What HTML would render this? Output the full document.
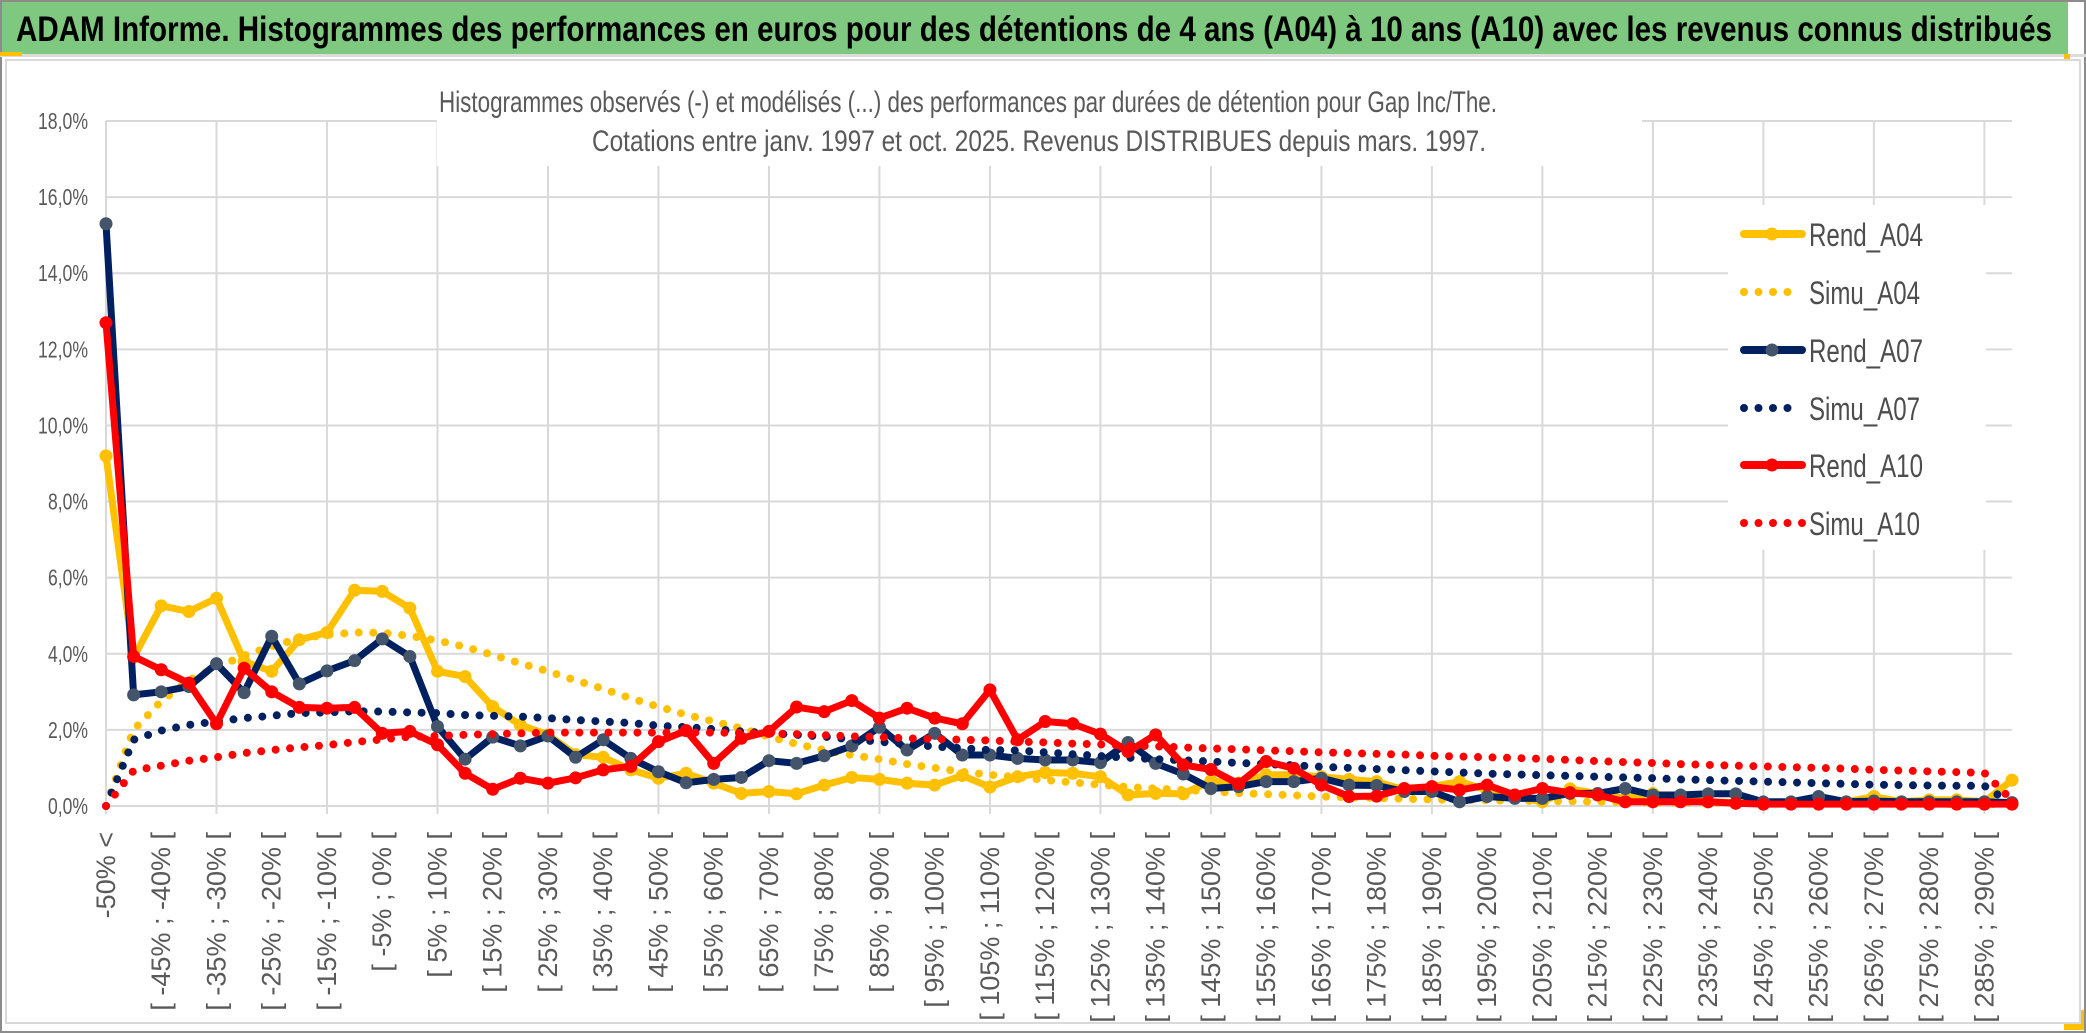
<!DOCTYPE html>
<html><head><meta charset="utf-8"><title>ADAM Informe - Gap Inc/The</title>
<style>
html,body{margin:0;padding:0;background:#fff;}
svg{display:block;}
</style></head>
<body>
<svg id="chart" width="2086" height="1033" viewBox="0 0 2086 1033" xmlns="http://www.w3.org/2000/svg">
  <rect x="0" y="0" width="2086" height="1033" fill="#ffffff"/>
  <rect x="1" y="1" width="2084" height="1031" fill="none" stroke="#8c8c8c" stroke-width="2"/>
  <rect x="2" y="2" width="2066" height="52" fill="#7ec87f"/>
  <rect x="0" y="54" width="2086" height="3" fill="#dcdcdc"/>
  <rect x="0" y="52" width="22" height="4" fill="#ffc000"/>
  <rect x="2064" y="54" width="6" height="16" fill="#ffc000"/>
  <rect x="2064" y="1010" width="20" height="20" fill="#ffc000"/>
  <rect x="6" y="60" width="2074" height="963" fill="#ffffff" stroke="#d9d9d9" stroke-width="2"/>
  <text x="16" y="41" font-family="'Liberation Sans Narrow','Liberation Sans',sans-serif" font-weight="bold" font-size="35" fill="#000" textLength="2036" lengthAdjust="spacingAndGlyphs">ADAM Informe. Histogrammes des performances en euros pour des détentions de 4 ans (A04) à 10 ans (A10) avec les revenus connus distribués</text>
  <g id="grid"></g>
  <rect x="437" y="70" width="1205" height="96" fill="#ffffff"/>
  <text x="968" y="112" text-anchor="middle" font-family="'Liberation Sans Narrow','Liberation Sans',sans-serif" font-size="30" fill="#595959" textLength="1058" lengthAdjust="spacingAndGlyphs">Histogrammes observés (-) et modélisés (...) des performances par durées de détention pour Gap Inc/The.</text>
  <text x="1039" y="151" text-anchor="middle" font-family="'Liberation Sans Narrow','Liberation Sans',sans-serif" font-size="30" fill="#595959" textLength="894" lengthAdjust="spacingAndGlyphs">Cotations entre janv. 1997 et oct. 2025. Revenus DISTRIBUES depuis mars. 1997.</text>
  <g id="yaxis"></g>
  <g id="xaxis"></g>
  <g id="series"></g>
  <g id="legend"></g>
</svg>
<script>
const NS = 'http://www.w3.org/2000/svg';
const yTickValues = [0, 2, 4, 6, 8, 10, 12, 14, 16, 18];
const yTickLabels = ['0,0%','2,0%','4,0%','6,0%','8,0%','10,0%','12,0%','14,0%','16,0%','18,0%'];
const categories = ['-50% <'];
for (let b = -50; b < 295; b += 5) { categories.push('[ ' + b + '% ; ' + (b + 5) + '% ['); }

const rendA04 = [9.2,3.9,5.26,5.11,5.46,3.8,3.54,4.37,4.56,5.67,5.64,5.2,3.54,3.4,2.61,2.13,1.87,1.35,1.28,0.95,0.73,0.86,0.6,0.33,0.38,0.32,0.55,0.75,0.7,0.6,0.55,0.8,0.5,0.77,0.88,0.86,0.77,0.29,0.33,0.32,0.66,0.6,0.82,0.82,0.77,0.7,0.64,0.42,0.51,0.64,0.42,0.25,0.11,0.45,0.33,0.2,0.33,0.16,0.11,0.09,0.07,0.09,0.11,0.11,0.25,0.11,0.16,0.16,0.11,0.68];
const simuA04 = [0,2.0,2.75,3.3,3.65,3.95,4.2,4.4,4.5,4.56,4.55,4.47,4.35,4.18,3.97,3.75,3.54,3.3,3.08,2.83,2.61,2.4,2.22,2.04,1.82,1.63,1.47,1.34,1.23,1.1,1.0,0.9,0.82,0.76,0.68,0.62,0.56,0.5,0.46,0.42,0.38,0.34,0.31,0.28,0.25,0.23,0.21,0.19,0.17,0.16,0.15,0.14,0.13,0.12,0.11,0.1,0.1,0.09,0.09,0.08,0.08,0.07,0.07,0.07,0.06,0.06,0.06,0.05,0.05,0.05];
const rendA07 = [15.3,2.92,3.0,3.14,3.74,2.98,4.46,3.21,3.55,3.82,4.39,3.93,2.09,1.23,1.81,1.58,1.84,1.28,1.74,1.25,0.9,0.61,0.7,0.75,1.19,1.12,1.32,1.58,2.07,1.47,1.91,1.34,1.34,1.25,1.21,1.21,1.14,1.67,1.12,0.84,0.46,0.51,0.64,0.64,0.73,0.55,0.54,0.38,0.38,0.11,0.25,0.2,0.2,0.33,0.33,0.46,0.29,0.29,0.32,0.32,0.11,0.11,0.25,0.11,0.13,0.11,0.11,0.11,0.11,0.09];
const simuA07 = [0,1.74,1.98,2.13,2.22,2.31,2.37,2.44,2.46,2.49,2.48,2.46,2.44,2.39,2.37,2.35,2.31,2.26,2.22,2.18,2.11,2.07,2.02,1.96,1.91,1.87,1.82,1.75,1.69,1.63,1.56,1.52,1.47,1.46,1.41,1.36,1.31,1.27,1.23,1.2,1.17,1.13,1.1,1.07,1.03,1.0,0.97,0.94,0.91,0.88,0.85,0.83,0.81,0.79,0.77,0.75,0.73,0.7,0.68,0.66,0.64,0.62,0.6,0.58,0.56,0.55,0.54,0.53,0.53,0.05];
const rendA10 = [12.7,3.93,3.58,3.23,2.16,3.62,3.0,2.59,2.57,2.59,1.91,1.96,1.61,0.86,0.44,0.73,0.6,0.74,0.95,1.04,1.69,1.98,1.12,1.78,1.96,2.6,2.48,2.77,2.31,2.57,2.31,2.16,3.05,1.74,2.22,2.16,1.89,1.43,1.87,1.08,0.96,0.58,1.17,0.99,0.55,0.25,0.26,0.46,0.51,0.42,0.55,0.29,0.46,0.35,0.29,0.11,0.11,0.11,0.11,0.07,0.05,0.05,0.05,0.05,0.05,0.05,0.05,0.05,0.05,0.05];
const simuA10 = [0,0.93,1.06,1.19,1.28,1.39,1.47,1.54,1.6,1.68,1.75,1.82,1.84,1.87,1.89,1.91,1.93,1.93,1.93,1.93,1.93,1.93,1.93,1.92,1.9,1.89,1.86,1.83,1.81,1.78,1.76,1.74,1.72,1.69,1.67,1.64,1.62,1.59,1.57,1.54,1.51,1.49,1.46,1.44,1.41,1.39,1.37,1.35,1.32,1.3,1.28,1.26,1.24,1.21,1.18,1.15,1.13,1.1,1.08,1.06,1.04,1.02,1.0,0.98,0.95,0.93,0.91,0.89,0.87,0.15];

const PX0 = 106, PX1 = 2012, PY0 = 806, PY1 = 121, YMAX = 18;
function xS(i) { return PX0 + i * (PX1 - PX0) / (categories.length - 1); }
function yS(v) { return PY0 - v * (PY0 - PY1) / YMAX; }
function mk(tag, attrs, parent) {
  const e = document.createElementNS(NS, tag);
  for (const k in attrs) e.setAttribute(k, attrs[k]);
  parent.appendChild(e);
  return e;
}

// gridlines
const grid = document.getElementById('grid');
yTickValues.forEach(v => {
  const l = mk('line', {x1: PX0, x2: PX1, y1: yS(v), y2: yS(v), stroke: '#d9d9d9', 'stroke-width': 2}, grid);
  
  
});
for (let i = 0; i < categories.length; i += 4) {
  const l = mk('line', {x1: xS(i), x2: xS(i), y1: PY1, y2: PY0 + 8, stroke: '#d9d9d9', 'stroke-width': 2}, grid);
  
  
}

// y axis labels
const yaxis = document.getElementById('yaxis');
yTickValues.forEach((v, i) => {
  const t = mk('text', {x: 88, y: yS(v) + 8, 'text-anchor': 'end', 'font-family': "'Liberation Sans Narrow','Liberation Sans',sans-serif", 'font-size': 23, fill: '#595959', textLength: yTickLabels[i].length * 10, lengthAdjust: 'spacingAndGlyphs'}, yaxis);
  
  
  t.textContent = yTickLabels[i];
});

// x axis labels (every other category)
const xaxis = document.getElementById('xaxis');
for (let i = 0; i < categories.length; i += 2) {
  const x = xS(i) + 9, y = 832;
  const t = mk('text', {x: x, y: y, 'text-anchor': 'end', transform: 'rotate(-90 ' + x + ' ' + y + ')', 'font-family': "'Liberation Sans',sans-serif", 'font-size': 27, fill: '#595959'}, xaxis);
  
  
  t.textContent = categories[i];
}

// series
const seriesLayer = document.getElementById('series');
function pts(arr) { return arr.map((v, i) => xS(i).toFixed(1) + ',' + yS(v).toFixed(1)).join(' '); }
function drawSim(arr, color, name) {
  const p = mk('polyline', {points: pts(arr), fill: 'none', stroke: color, 'stroke-width': 8, 'stroke-linecap': 'round', 'stroke-dasharray': '0 14.5', 'stroke-linejoin': 'round'}, seriesLayer);
  
  
}
function drawRend(arr, color, mcolor, name) {
  const g = mk('g', {}, seriesLayer);
  
  
  mk('polyline', {points: pts(arr), fill: 'none', stroke: color, 'stroke-width': 7, 'stroke-linejoin': 'round', 'stroke-linecap': 'round'}, g);
  arr.forEach((v, i) => {
    const c = mk('circle', {cx: xS(i), cy: yS(v), r: 6.5, fill: mcolor}, g);
    
    
  });
}
drawRend(rendA04, '#ffc000', '#ffc000', 'rend-a04-line');
drawSim(simuA04, '#ffc000', 'simu-a04-line');
drawRend(rendA07, '#002060', '#44546a', 'rend-a07-line');
drawSim(simuA07, '#002060', 'simu-a07-line');
drawRend(rendA10, '#ff0000', '#ff0000', 'rend-a10-line');
drawSim(simuA10, '#ff0000', 'simu-a10-line');

// legend
const legend = document.getElementById('legend');
const lbg = mk('rect', {x: 1728, y: 205, width: 258, height: 345, fill: '#ffffff'}, legend);


const legendNames = ['Rend_A04','Simu_A04','Rend_A07','Simu_A07','Rend_A10','Simu_A10'];
const legendColors = ['#ffc000','#ffc000','#002060','#002060','#ff0000','#ff0000'];
const legendMarker = ['#ffc000',null,'#44546a',null,'#ff0000',null];
const legendY = [234, 292, 350, 408, 465, 523];
legendNames.forEach((n, i) => {
  const g = mk('g', {}, legend);
  
  
  const y = legendY[i];
  if (legendMarker[i]) {
    mk('line', {x1: 1744, x2: 1802, y1: y, y2: y, stroke: legendColors[i], 'stroke-width': 8, 'stroke-linecap': 'round'}, g);
    mk('circle', {cx: 1772, cy: y, r: 6.5, fill: legendMarker[i]}, g);
  } else {
    const nd = (i === 5) ? 5 : 4;
    for (let d = 0; d < nd; d++) mk('circle', {cx: 1744 + d * 14.5, cy: y, r: 4, fill: legendColors[i]}, g);
  }
  const t = mk('text', {x: 1809, y: y + 12, 'font-family': "'Liberation Sans Narrow','Liberation Sans',sans-serif", 'font-size': 32, fill: '#4d4d4d', textLength: (n.indexOf('Simu') === 0 ? 111 : 114), lengthAdjust: 'spacingAndGlyphs'}, g);
  
  
  t.textContent = n;
});
</script>
</body></html>
